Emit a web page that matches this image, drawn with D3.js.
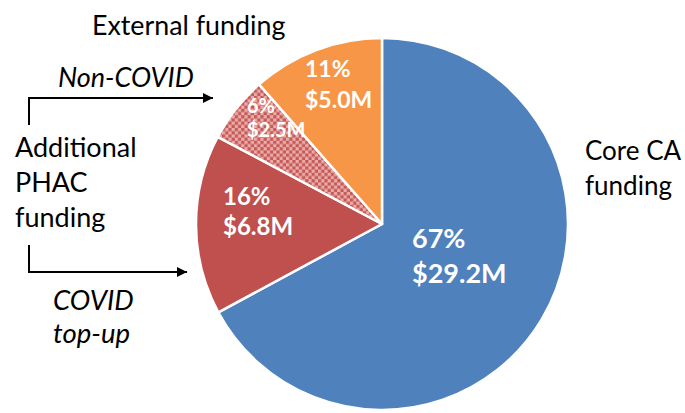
<!DOCTYPE html>
<html>
<head>
<meta charset="utf-8">
<script src="https://cdn.jsdelivr.net/npm/d3@7"></script>
<style>
  html, body { margin: 0; padding: 0; background: #fff; }
  svg { display: block; }
  text { font-family: Lato, "Open Sans", sans-serif; }
</style>
</head>
<body>
<div id="chart"></div>
<script>
// ---- data ----
const categories = ["Core CA funding", "PHAC COVID top-up", "PHAC Non-COVID", "External funding"];
const values = [29.2, 6.8, 2.5, 5.0];            // $M
const percentLabels = ["67%", "16%", "6%", "11%"];
const amountLabels = ["$29.2M", "$6.8M", "$2.5M", "$5.0M"];

// ---- layout ----
const W = 685, H = 413;
const cx = 382, cy = 224, R = 186;
const colors = ["#4F81BD", "#C0504D", "url(#checker)", "#F79646"];
// label anchor (left, first baseline) relative to pie centre, and font size
const labelPos = [
  { dx: 30, dy: 24, size: 27, gap: 35 },
  { dx: -159, dy: -19, size: 24, gap: 30 },
  { dx: -135, dy: -111, size: 20, gap: 24 },
  { dx: -77, dy: -147, size: 23, gap: 31 }
];

const svg = d3.select("#chart").append("svg")
  .attr("width", W).attr("height", H);

const defs = svg.append("defs");
const pat = defs.append("pattern")
  .attr("id", "checker").attr("patternUnits", "userSpaceOnUse")
  .attr("width", 6.4).attr("height", 6.4);
pat.append("rect").attr("width", 6.4).attr("height", 6.4).attr("fill", "#E8ADAB");
pat.append("rect").attr("width", 3.2).attr("height", 3.2).attr("fill", "#C75956");
pat.append("rect").attr("x", 3.2).attr("y", 3.2).attr("width", 3.2).attr("height", 3.2).attr("fill", "#C75956");

defs.append("marker")
  .attr("id", "arrow").attr("viewBox", "0 0 10 10")
  .attr("refX", 10).attr("refY", 5)
  .attr("markerUnits", "userSpaceOnUse")
  .attr("markerWidth", 12).attr("markerHeight", 10)
  .attr("orient", "auto")
  .append("path").attr("d", "M0,0 L10,5 L0,10 Z").attr("fill", "#000");

const pie = d3.pie().sort(null).value(d => d);
const arcs = pie(values);
const arc = d3.arc().innerRadius(0).outerRadius(R);

const g = svg.append("g").attr("transform", `translate(${cx},${cy})`);
g.selectAll("path.slice").data(arcs).join("path")
  .attr("class", "slice")
  .attr("d", arc)
  .attr("fill", (d, i) => colors[i])
  .attr("stroke", "#fff")
  .attr("stroke-width", 2.5)
  .attr("stroke-linejoin", "round");

// slice labels
arcs.forEach((d, i) => {
  const p = labelPos[i];
  const t = g.append("text")
    .attr("x", p.dx).attr("y", p.dy)
    .attr("fill", "#fff").attr("font-weight", 700)
    .attr("font-size", p.size);
  t.append("tspan").attr("x", p.dx).text(percentLabels[i]);
  t.append("tspan").attr("x", p.dx).attr("dy", p.gap).text(amountLabels[i]);
});

// outside labels
function label(x, y, lines, italic, lh, size) {
  const t = svg.append("text").attr("x", x).attr("y", y)
    .attr("font-size", size).attr("fill", "#000")
    .attr("font-style", italic ? "italic" : "normal");
  lines.forEach((l, k) => t.append("tspan").attr("x", x).attr("dy", k ? lh : 0).text(l));
}
label(92, 35, ["External funding"], false, 0, 26.8);
label(585, 160, ["Core CA", "funding"], false, 35, 26);
label(15, 157, ["Additional", "PHAC", "funding"], false, 35, 27);
label(58, 87, ["Non-COVID"], true, 0, 27);
label(53, 310, ["COVID", "top-up"], true, 33, 27.5);

// connector arrows
const line = d3.line();
svg.append("path")
  .attr("d", line([[29, 125], [29, 98], [213, 98]]))
  .attr("fill", "none").attr("stroke", "#000").attr("stroke-width", 2)
  .attr("marker-end", "url(#arrow)");
svg.append("path")
  .attr("d", line([[29, 245], [29, 272], [187, 272]]))
  .attr("fill", "none").attr("stroke", "#000").attr("stroke-width", 2)
  .attr("marker-end", "url(#arrow)");
</script>
</body>
</html>
